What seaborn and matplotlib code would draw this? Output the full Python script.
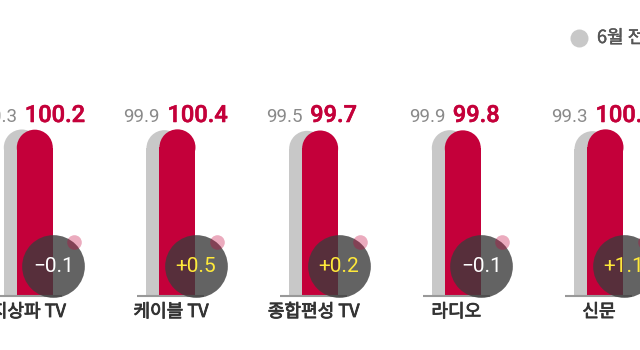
import matplotlib
matplotlib.use("Agg")
import matplotlib.pyplot as plt
import matplotlib.patheffects as pe
from matplotlib.patches import Ellipse
import seaborn as sns
import pandas as pd

# ---- data ----
categories = ["지상파 TV", "케이블 TV", "종합편성 TV", "라디오", "신문"]
june_values = [100.3, 99.9, 99.5, 99.9, 99.3]
july_values = [100.2, 100.4, 99.7, 99.8, 100.4]
series_names = ["6월 전망", "7월 전망"]
legend_label = "6월 전망"

GRAY = "#c8c8c8"
RED = "#c4003a"

sns.set_style("white")
plt.rcParams["font.family"] = ["Roboto", "Noto Sans CJK KR", "DejaVu Sans"]

df = pd.DataFrame({
    "매체": categories * 2,
    "구분": [series_names[0]] * len(categories) + [series_names[1]] * len(categories),
    "지수": june_values + july_values,
})

fig = plt.figure(figsize=(6.4, 3.5), dpi=100)
ax = fig.add_axes([0, 0, 1, 1])

PX_X = 142.67          # pixels per category
PX_Y = 1.66            # pixels per index unit
BASE_PX = 296          # pixel row of the baseline

bar_w = 36 / PX_X
sns.barplot(data=df, x="매체", y="지수", hue="구분", palette=[GRAY, RED],
            dodge=True, width=2 * bar_w, gap=0, saturation=1, legend=False,
            linewidth=0, ax=ax)

ax.set_xlim(-28.3 / PX_X, (640 - 28.3) / PX_X)
ax.set_ylim((BASE_PX - 350) / PX_Y, BASE_PX / PX_Y)
ax.axis("off")

# overlap the bars and round their tops
shift = 6.5 / PX_X
r_y = 18 / PX_Y
n = len(categories)
patches = list(ax.patches)
for i, p in enumerate(patches):
    is_red = i >= n
    w = p.get_width()
    cx = p.get_x() + w / 2
    idx = round(cx)
    new_cx = idx + (shift if is_red else -shift)
    p.set_x(new_cx - w / 2)
    h = p.get_height()
    p.set_height(h - r_y)
    z = 3 if is_red else 2
    p.set_zorder(z)
    color = p.get_facecolor()
    ax.add_patch(Ellipse((new_cx, h - r_y), w, 2 * r_y, facecolor=color,
                         edgecolor="none", zorder=z))

# baselines
for i in range(n):
    ax.plot([i - 33.5 / PX_X, i + 33.5 / PX_X], [0, 0], color="#999999",
            lw=1.5, solid_capstyle="butt", zorder=4)

# value labels
label_y = (BASE_PX - 122) / PX_Y
for i, (g, r) in enumerate(zip(june_values, july_values)):
    ax.text(i - 11 / PX_X, label_y, f"{g:.1f}", ha="right", va="baseline",
            fontsize=13.5, color="#8a8a8a", family=["Roboto", "DejaVu Sans"])
    ax.text(i - 3.5 / PX_X, label_y, f"{r:.1f}", ha="left", va="baseline",
            fontsize=17, color=RED, fontweight="medium",
            family=["Roboto", "DejaVu Sans"],
            path_effects=[pe.withStroke(linewidth=0.4, foreground=RED)])

# difference bubbles
diffs = [round(r - g, 1) for g, r in zip(june_values, july_values)]
bx = [i + 25 / PX_X for i in range(n)]
by = (BASE_PX - 266) / PX_Y
ax.scatter(bx, [by] * n, s=(62.7 * 0.72) ** 2, color="#3c3c3c", alpha=0.8,
           linewidths=0, zorder=5, clip_on=False)
ax.scatter([i + 46 / PX_X for i in range(n)], [(BASE_PX - 241.7) / PX_Y] * n,
           s=(14.6 * 0.72) ** 2, color=RED, alpha=0.33, linewidths=0, zorder=6)
for x, d in zip(bx, diffs):
    txt = f"{d:+.1f}".replace("-", "\u2212")
    ax.text(x, by, txt, ha="center", va="center", fontsize=15,
            color="#ffe93a" if d > 0 else "white", zorder=7,
            family=["Roboto", "DejaVu Sans"])

# category labels
for i, c in enumerate(categories):
    ax.text(i, (BASE_PX - 312) / PX_Y, c, ha="center", va="center",
            fontsize=13, color="#333333",
            family=["Noto Sans CJK KR", "DejaVu Sans"],
            path_effects=[pe.withStroke(linewidth=0.6, foreground="#333333")])

# legend (top right)
lx = 579 / PX_X - 28.3 / PX_X
ly = (BASE_PX - 38) / PX_Y
ax.scatter([lx], [ly], s=(18 * 0.72) ** 2, color=GRAY, linewidths=0, zorder=5)
ax.text(597 / PX_X - 28.3 / PX_X, ly, legend_label, ha="left", va="center",
        fontsize=13, color="#555555",
        family=["Noto Sans CJK KR", "DejaVu Sans"],
        path_effects=[pe.withStroke(linewidth=0.3, foreground="#555555")])

fig.savefig("out.png", dpi=100, facecolor="white")
